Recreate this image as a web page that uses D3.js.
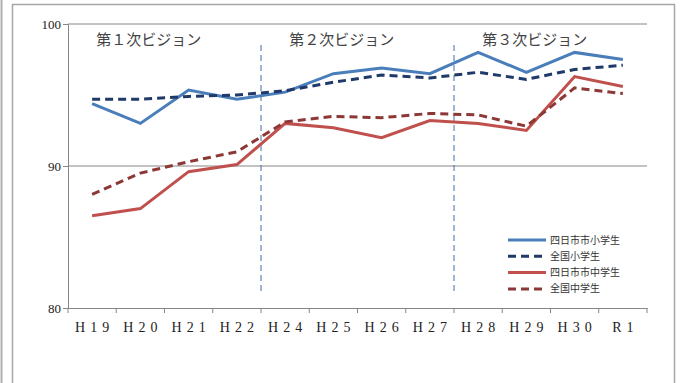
<!DOCTYPE html>
<html>
<head>
<meta charset="utf-8">
<script src="https://cdn.jsdelivr.net/npm/d3@7"></script>
<style>
  body { margin: 0; background: #fff; }
  svg { display: block; }
</style>
</head>
<body>
<div id="chart"></div>
<script>
const years = ["H19", "H20", "H21", "H22", "H24", "H25", "H26", "H27", "H28", "H29", "H30", "R1"];
const yTicks = [80, 90, 100];

const cityElem = [94.4, 93.0, 95.35, 94.7, 95.2, 96.5, 96.9, 96.5, 98.0, 96.6, 98.0, 97.5];
const natElem = [94.7, 94.7, 94.9, 95.0, 95.3, 95.9, 96.4, 96.2, 96.6, 96.1, 96.8, 97.1];
const cityJunior = [86.5, 87.0, 89.6, 90.1, 93.0, 92.7, 92.0, 93.2, 93.0, 92.5, 96.3, 95.6];
const natJunior = [88.0, 89.5, 90.3, 91.0, 93.1, 93.5, 93.4, 93.7, 93.6, 92.8, 95.5, 95.1];

const seriesNames = ["四日市市小学生", "全国小学生", "四日市市中学生", "全国中学生"];
const visionLabels = ["第１次ビジョン", "第２次ビジョン", "第３次ビジョン"];
const visionStart = ["H19", "H24", "H28"];

const series = [
  { name: seriesNames[0], values: cityElem, color: "#4a7ebb", dash: null },
  { name: seriesNames[1], values: natElem, color: "#1f3a68", dash: "8,5" },
  { name: seriesNames[2], values: cityJunior, color: "#c0504d", dash: null },
  { name: seriesNames[3], values: natJunior, color: "#8c3836", dash: "8,5" }
];

const W = 682, H = 383;
const margin = { top: 24, right: 35, bottom: 75, left: 68 };
const width = W - margin.left - margin.right,
      height = H - margin.top - margin.bottom;

const root = d3.select("#chart").append("svg")
    .attr("width", W)
    .attr("height", H);

// outer frame
root.append("rect")
    .attr("x", 12.5).attr("y", 4.5)
    .attr("width", 662).attr("height", 400)
    .attr("fill", "none")
    .attr("stroke", "#a6a6a6")
    .attr("stroke-width", 1.5);
root.append("line")
    .attr("x1", 1.5).attr("x2", 1.5).attr("y1", 0).attr("y2", H)
    .attr("stroke", "#b0b0b0").attr("stroke-width", 2);

const svg = root.append("g")
    .attr("transform", `translate(${margin.left},${margin.top})`);

const x = d3.scaleBand()
    .domain(years)
    .range([0, width]);

const y = d3.scaleLinear()
    .domain([80, 100])
    .range([height, 0]);

// gridlines
svg.append("g")
    .selectAll("line")
    .data(yTicks.filter(d => d > 80))
    .join("line")
    .attr("x1", 0).attr("x2", width)
    .attr("y1", d => y(d)).attr("y2", d => y(d))
    .attr("stroke", "#868686")
    .attr("stroke-width", 1);

// y axis
const yAxis = svg.append("g")
    .call(d3.axisLeft(y).tickValues(yTicks).tickSize(5).tickFormat(d3.format("d")));
yAxis.select(".domain").attr("stroke", "#868686");
yAxis.selectAll(".tick line").attr("stroke", "#868686");
yAxis.selectAll("text")
    .attr("font-family", "'Liberation Serif', serif")
    .attr("font-size", 13)
    .attr("fill", "#222")
    .attr("x", -7);

// x axis with ticks at category boundaries
const xAxis = svg.append("g")
    .attr("transform", `translate(0,${height})`)
    .call(d3.axisBottom(x).tickSize(0).tickPadding(14));
xAxis.select(".domain").attr("stroke", "#868686");
xAxis.selectAll("text")
    .attr("font-family", "'Liberation Serif', serif")
    .attr("font-size", 14)
    .attr("letter-spacing", "5px")
    .attr("dx", "2.5px")
    .attr("fill", "#222");
xAxis.selectAll(".bnd")
    .data(d3.range(years.length + 1))
    .join("line")
    .attr("class", "bnd")
    .attr("x1", i => i * x.step()).attr("x2", i => i * x.step())
    .attr("y1", 0).attr("y2", 5)
    .attr("stroke", "#868686");

// vision dividers
svg.selectAll(".divider")
    .data(visionStart.slice(1))
    .join("line")
    .attr("class", "divider")
    .attr("x1", d => x(d)).attr("x2", d => x(d))
    .attr("y1", 21).attr("y2", height - 15)
    .attr("stroke", "#3f6fa8")
    .attr("stroke-width", 1)
    .attr("stroke-dasharray", "6,4");

// vision labels, starting at the first category of each period
svg.selectAll(".vision")
    .data(visionLabels)
    .join("text")
    .attr("class", "vision")
    .attr("x", (d, i) => x(visionStart[i]) + x.bandwidth() / 2 + 4)
    .attr("y", 21)
    .attr("font-family", "'Noto Sans CJK JP', sans-serif")
    .attr("font-size", 15)
    .attr("fill", "#444")
    .text(d => d);

// lines
const line = d3.line()
    .x((d, i) => x(years[i]) + x.bandwidth() / 2)
    .y(d => y(d));

svg.selectAll(".series")
    .data(series)
    .join("path")
    .attr("class", "series")
    .attr("fill", "none")
    .attr("stroke", d => d.color)
    .attr("stroke-width", 3)
    .attr("stroke-dasharray", d => d.dash)
    .attr("d", d => line(d.values));

// legend
const legend = svg.append("g")
    .attr("transform", `translate(${440},${216})`);
const item = legend.selectAll("g")
    .data(series)
    .join("g")
    .attr("transform", (d, i) => `translate(0,${i * 16.3})`);
item.append("line")
    .attr("x1", 0).attr("x2", 38)
    .attr("stroke", d => d.color)
    .attr("stroke-width", 3)
    .attr("stroke-dasharray", d => d.dash ? "8,5" : null);
item.append("text")
    .attr("x", 42)
    .attr("y", 3.5)
    .attr("font-family", "'Noto Sans CJK JP', sans-serif")
    .attr("font-size", 10)
    .attr("fill", "#333")
    .text(d => d.name);
</script>
</body>
</html>
